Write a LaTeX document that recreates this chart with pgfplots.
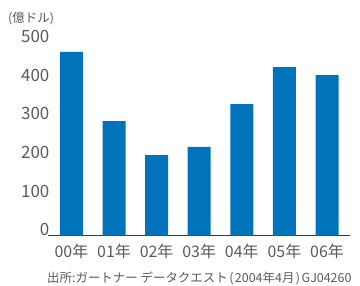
\documentclass[border=0pt]{standalone}
\usepackage{pgfplots}
\pgfplotsset{compat=1.18}
\usepackage{fontspec}
\setmainfont{Noto Sans CJK JP}
\definecolor{barblue}{RGB}{0,115,187}
\definecolor{txtgray}{RGB}{90,90,90}
\definecolor{axgray}{RGB}{60,60,60}
\begin{document}
\begin{tikzpicture}[x=1bp,y=1bp]
\useasboundingbox (0,0) rectangle (360,286);
\begin{axis}[
  at={(48bp,50.3bp)}, anchor=south west,
  scale only axis,
  width=302bp, height=193bp,
  xmin=-0.55, xmax=6.54,
  ymin=0, ymax=500,
  axis x line*=bottom, axis y line*=left,
  y axis line style={draw=none},
  x axis line style={draw=axgray, line width=1.2bp, -},
  major tick length=0pt,
  xtick={0,...,6},
  xticklabels={00年,01年,02年,03年,04年,05年,06年},
  ytick={0,100,200,300,400,500},
  xticklabel style={anchor=base, inner sep=0pt, yshift=-22bp, font=\fontsize{16}{16}\selectfont, text=txtgray},
  yticklabel style={anchor=base east, inner sep=0pt, xshift=1.5bp, font=\fontsize{17}{17}\selectfont, text=txtgray},
  /pgf/number format/assume math mode=true,
  clip=false,
]
\addplot[ybar, bar width=23bp, fill=barblue, draw=none] coordinates {
  (0,476) (1,297) (2,209) (3,230) (4,341) (5,437) (6,416)
};
\end{axis}
\node[anchor=base west, inner sep=0pt, text=txtgray, font=\fontsize{12.5}{12.5}\selectfont] at (8,264) {(億ドル)};
\node[anchor=base west, inner sep=0pt, text=txtgray, font=\fontsize{12.5}{12.5}\selectfont] at (47,4) {出所:ガートナー データクエスト\hspace{1.5bp}(\hspace{1.5bp}2004年4月\hspace{1.5bp})\hspace{1.5bp}GJ04260};
\end{tikzpicture}
\end{document}
